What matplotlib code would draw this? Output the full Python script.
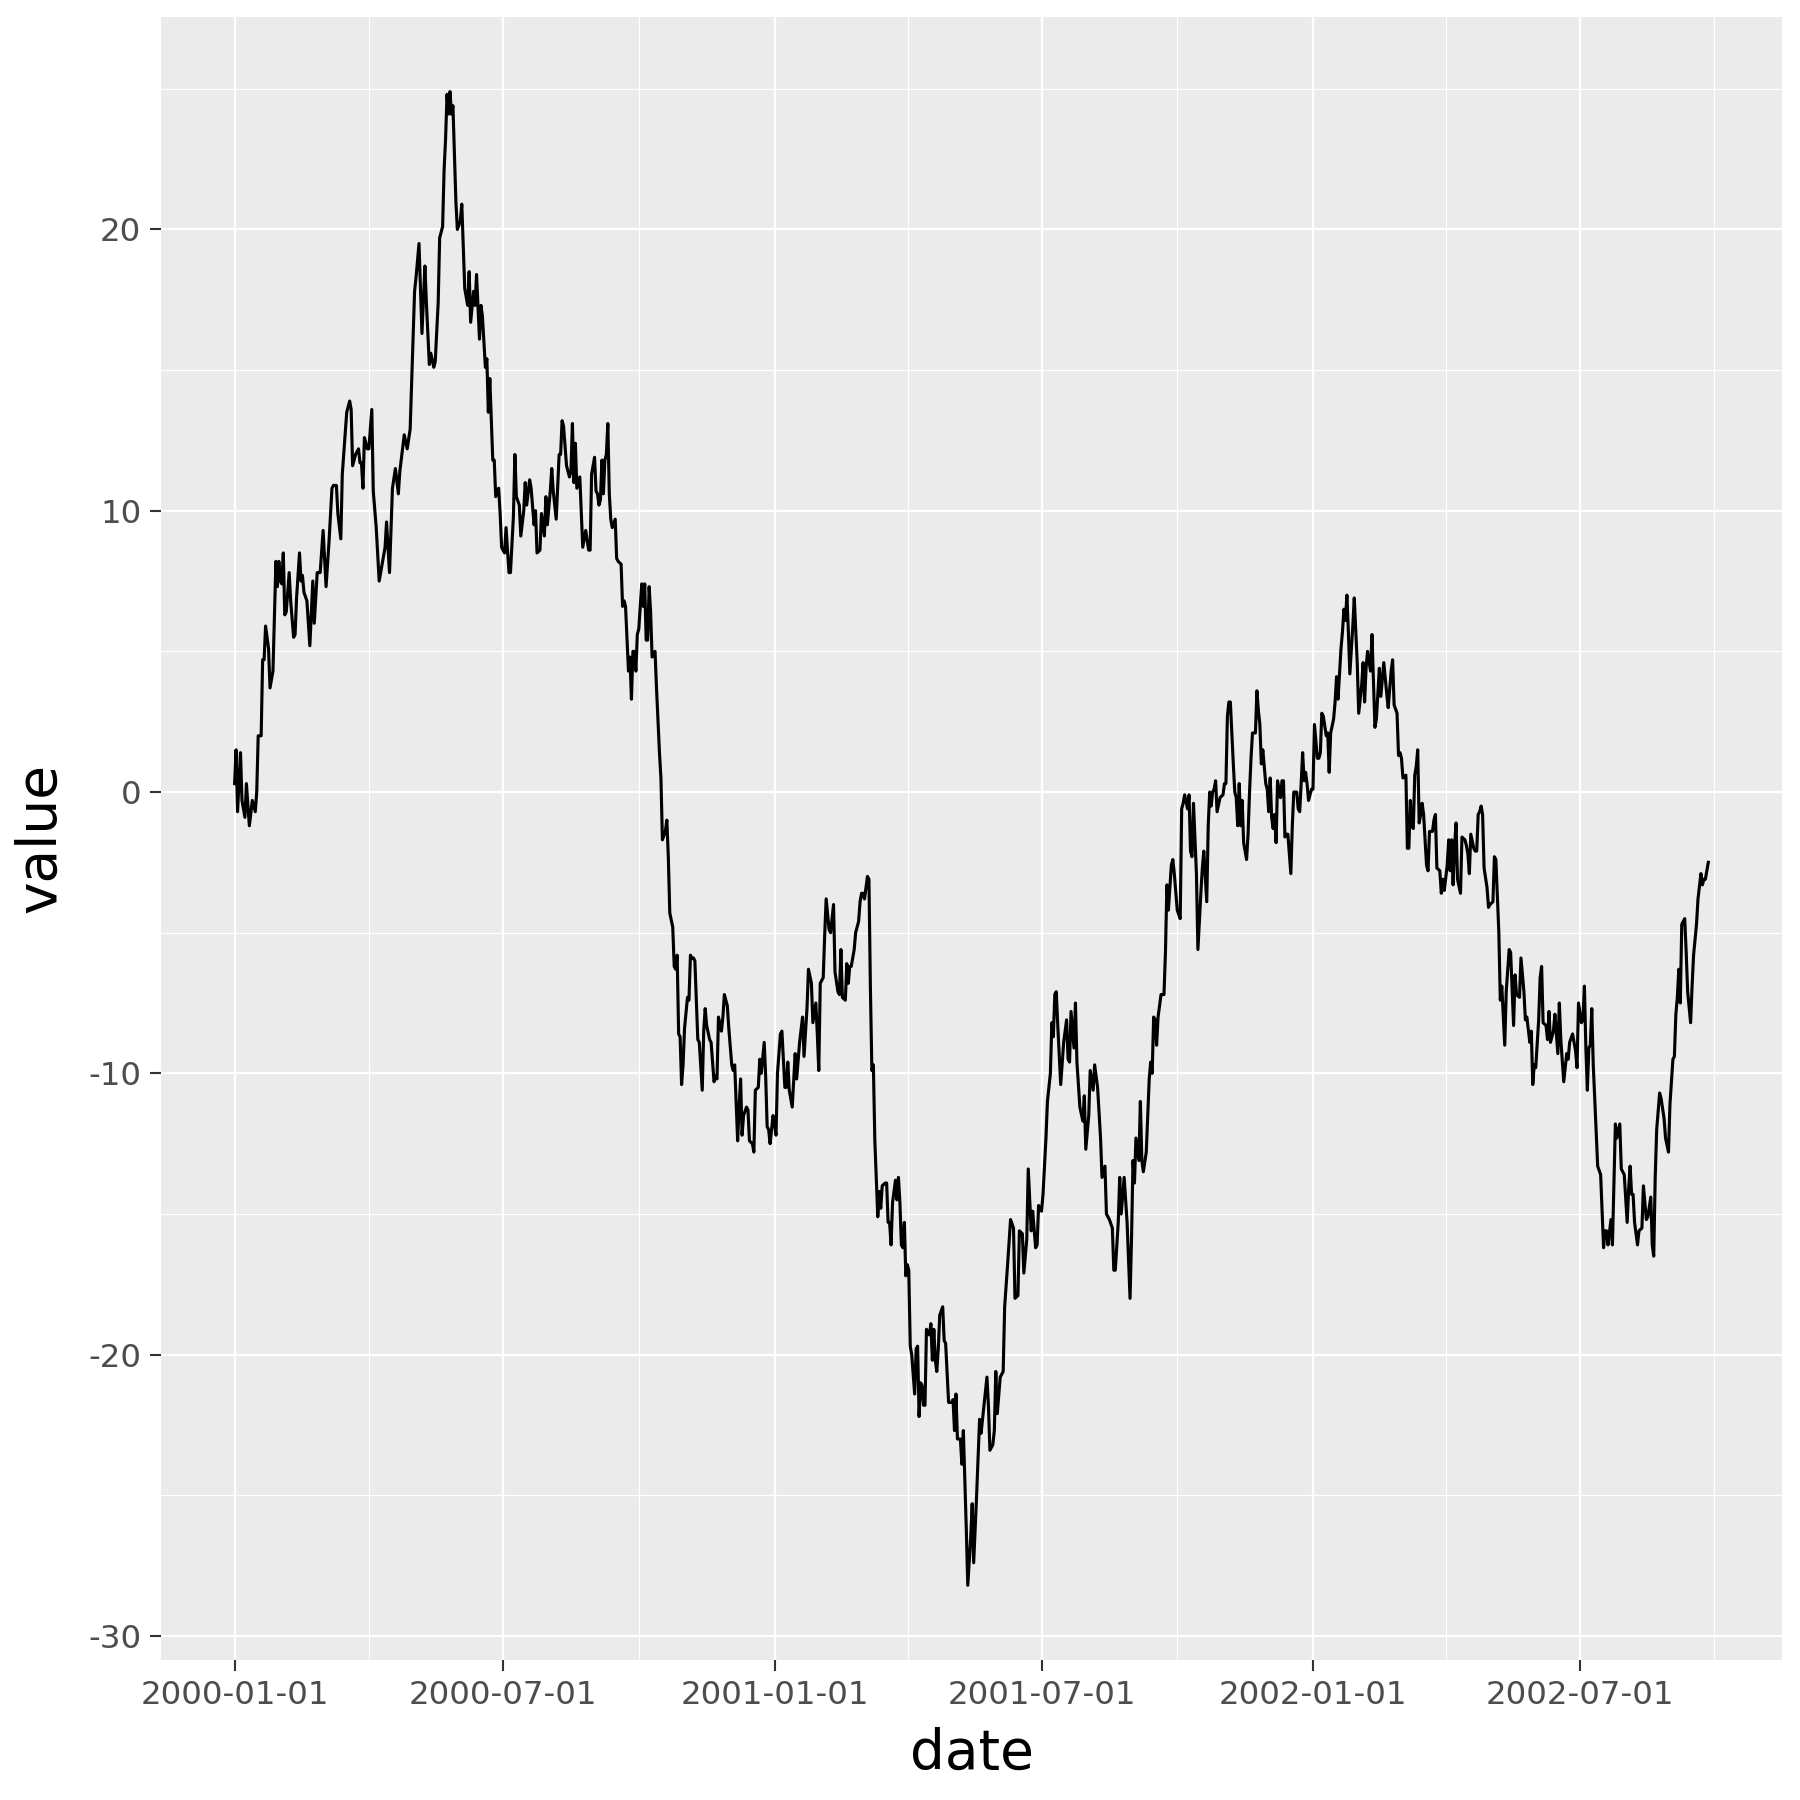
import matplotlib
matplotlib.use('Agg')
import matplotlib.pyplot as plt
import matplotlib.dates as mdates
import numpy as np
import pandas as pd

plt.rcParams['axes.unicode_minus'] = False

start = '2000-01-01'

# days since start
day = [
    0, 1, 2, 4, 5, 7, 8, 10, 12, 14, 15, 16, 18, 19, 20, 21, 23, 24, 26, 28,
    29, 30, 31, 32, 33, 34, 35, 37, 38, 40, 41, 42, 44, 45, 46, 47, 49, 51, 53, 54,
    56, 58, 60, 62, 64, 66, 67, 69, 70, 72, 73, 76, 78, 79, 80, 82, 84, 85, 86, 87,
    88, 90, 91, 93, 94, 96, 98, 100, 102, 103, 105, 107, 109, 111, 112, 115, 117,
    119, 120, 122, 123, 125, 127, 129, 130, 132, 133, 135, 136, 138, 139, 141, 142, 143, 144,
    145, 146, 147, 148, 149, 150, 151, 153, 154, 155, 156, 157, 158, 159, 160, 162, 163, 164,
    166, 167, 168, 170, 171, 172, 173, 175, 176, 177, 179, 180, 181, 183, 184, 186, 187, 189,
    190, 191, 193, 194, 196, 197, 198, 200, 201, 203, 204, 205, 207, 208, 210, 211, 212, 214,
    215, 216, 218, 220, 221, 222, 223, 225, 227, 228, 229, 230, 231, 232, 234, 236, 238, 240, 241,
    242, 244, 245, 246, 247, 248, 249, 250, 251, 252, 253, 254, 255, 256, 258, 259, 260, 262,
    263, 264, 265, 267, 268, 269, 270, 271, 272, 273, 274, 276, 277, 278, 279, 280, 281, 282,
    283, 285, 286, 288, 289, 290, 292, 293, 294, 295, 297, 298, 299, 300, 301, 302, 303, 304,
    305, 307, 308, 309, 310, 311, 312, 314, 315, 317, 318, 319, 320, 322, 323, 325, 326, 327,
    328, 330, 331, 332, 334, 335, 337, 338, 339, 341, 342, 343, 344, 345, 347, 348, 349, 351,
    352, 353, 355, 356, 357, 359, 360, 361, 362, 363, 365, 366, 367,
    368, 370, 371, 373, 374, 375, 376, 378, 380, 381, 383, 385, 386, 388, 389, 391, 392, 394,
    395, 396, 397, 399, 400, 401, 403, 404, 406, 407, 409, 410, 411, 412, 414, 415, 416, 417,
    418, 420, 421, 423, 424, 425, 426, 427, 429, 430, 431, 432, 433, 434, 436, 437, 438, 439,
    441, 442, 443, 444, 445, 446, 448, 449, 450, 451, 452, 453, 454, 455, 456, 457, 458, 459,
    461, 462, 463, 464, 465, 466, 467, 468, 469, 471, 472, 473, 474, 475, 476, 477, 478, 480,
    481, 482, 484,
    486, 487, 488, 489, 490, 492, 493, 494, 496, 497, 499, 500, 501, 503, 505, 506, 508, 510,
    511, 512, 514, 515, 516, 517, 519, 521, 522, 524, 526, 528, 529, 531, 532, 534, 535, 537,
    538, 540, 541, 543, 544, 545, 547, 548, 550, 551, 553, 554, 555, 556, 557, 558, 560, 562,
    564, 565, 566, 567, 569, 570, 571, 573, 575, 576, 577, 579, 580, 582, 583, 585, 587, 588,
    590, 591, 593, 595, 596, 597, 599, 600, 601, 603, 605, 606, 607,
    608, 609, 610, 611, 613, 614, 615, 616, 618, 620, 621, 622, 623, 624, 625, 626, 628, 630,
    631, 632, 633, 635, 636, 637, 639, 641, 642, 643, 644, 646, 647, 648, 649, 650, 652, 653,
    655, 656, 657, 659, 660, 661, 662, 663, 664, 665, 666, 668, 670, 671, 672, 673, 674, 675,
    677, 678, 679, 680, 681, 682, 683, 684, 686, 687, 688, 689, 690, 692, 693, 694, 695, 696,
    697, 699, 700, 701, 702, 703, 704, 705, 706, 707, 709, 710, 711, 712, 713, 714, 716, 717,
    718, 720, 721, 722, 723, 724, 725, 726, 727, 728,
    730, 731, 732, 734, 735, 736, 737, 738, 740, 741, 742, 743, 745, 746, 747, 748, 750, 751,
    752, 753, 754, 755, 756, 758, 759, 761, 762, 764, 765, 766, 767, 768, 770, 771, 773, 774,
    775, 776, 777, 779, 781, 782, 784, 785, 786, 788, 789, 790, 791, 792, 794, 795, 796, 797,
    798, 799, 800, 801, 802, 803, 804, 805, 806, 808, 809, 810, 812, 813, 814, 815, 817, 818,
    819, 820, 822, 823, 824, 825, 826, 827, 828, 829, 831, 832, 834, 835, 836, 837, 838, 840,
    841, 842, 843, 844, 845, 846, 847, 849, 850, 851,
    853, 854, 855, 857, 858, 859, 861, 862, 864, 865, 867, 868, 869, 871, 872, 874, 875, 876,
    878, 879, 880, 881, 882, 884, 885, 886, 887, 889, 890, 891, 892, 894, 895, 897, 898, 899,
    901, 903, 904, 905, 907, 909, 910, 911, 913, 914, 915, 916, 917, 918, 919, 920, 921, 923,
    924, 926, 927, 928, 929, 930, 931, 933, 934, 935, 936, 937, 939, 940, 942, 944, 945, 946,
    947, 948, 949, 951, 952, 954, 955, 957, 958, 960, 961, 962, 963, 964, 966, 967, 969, 970,
    972, 973, 975, 976, 977, 978, 979, 980, 981, 983, 984, 985, 987, 988, 989, 991, 992, 994,
    995, 996, 997, 999,
]

value = [
    0.3, 1.5, -0.7, 1.4, -0.3, -0.9, 0.3, -1.2, -0.3, -0.7, 0.0, 2.0, 2.0, 4.7, 4.7, 5.9, 5.1, 3.7, 4.3, 8.2,
    7.3, 8.2, 7.5, 7.4, 8.5, 6.3, 6.4, 7.8, 6.8, 5.5, 5.6, 6.9, 8.5, 7.5, 7.7, 7.1, 6.8, 5.2, 7.5, 6.0,
    7.8, 7.8, 9.3, 7.3, 8.9, 10.8, 10.9, 10.9, 9.9, 9.0, 11.3, 13.5, 13.9, 13.6, 11.6, 12.0, 12.2, 11.7, 11.7, 10.8,
    12.6, 12.2, 12.2, 13.6, 10.7, 9.4, 7.5, 8.1, 8.7, 9.6, 7.8, 10.8, 11.5, 10.6, 11.4, 12.7, 12.2,
    12.9, 14.5, 17.8, 18.3, 19.5, 16.3, 18.7, 17.4, 15.2, 15.6, 15.1, 15.3, 17.4, 19.7, 20.1, 22.1, 23.2, 24.8,
    24.1, 24.9, 24.1, 24.4, 22.7, 21.0, 20.0, 20.3, 20.9, 19.4, 17.9, 17.6, 17.3, 18.5, 16.7, 17.8, 17.3, 18.4,
    16.1, 17.3, 16.9, 15.1, 15.4, 13.5, 14.7, 11.8, 11.8, 10.5, 10.8, 9.9, 8.7, 8.5, 9.4, 7.8, 7.8, 9.8,
    12.0, 10.5, 10.2, 9.1, 10.0, 11.0, 10.2, 11.1, 10.8, 9.5, 10.0, 8.5, 8.6, 9.9, 9.1, 10.5, 9.5, 10.7,
    11.5, 10.7, 9.7, 12.0, 12.0, 13.2, 13.0, 11.6, 11.2, 11.4, 13.1, 11.0, 12.4, 10.8, 11.2, 8.7, 9.3, 8.6, 8.6,
    11.3, 11.9, 10.7, 10.6, 10.2, 10.4, 11.8, 10.6, 11.8, 12.0, 13.1, 10.6, 9.7, 9.4, 9.7, 8.3, 8.2, 8.1,
    6.6, 6.8, 6.6, 4.3, 4.8, 3.3, 5.0, 5.0, 4.3, 5.6, 5.8, 7.4, 6.6, 7.4, 5.4, 5.4, 7.3, 6.4,
    4.8, 5.0, 3.7, 1.4, 0.5, -1.7, -1.4, -1.0, -2.3, -4.3, -4.8, -6.2, -6.3, -5.8, -8.6, -8.7, -10.4, -9.7,
    -8.4, -7.3, -7.4, -5.8, -5.9, -5.9, -6.0, -8.8, -8.9, -10.6, -8.5, -7.7, -8.3, -8.8, -8.9, -10.3, -10.1, -10.2,
    -8.0, -8.5, -8.0, -7.2, -7.6, -8.4, -9.7, -9.9, -9.7, -12.4, -11.2, -10.2, -12.2, -11.5, -11.2, -11.3, -12.4, -12.5,
    -12.8, -10.6, -10.5, -9.5, -10.0, -8.9, -10.1, -11.9, -12.0, -12.5, -11.5, -11.8, -12.2,
    -10.0, -8.6, -8.5, -10.5, -10.5, -9.6, -10.6, -11.2, -9.3, -10.2, -8.9, -8.0, -9.4, -7.7, -6.3, -6.8, -8.2, -7.5,
    -8.6, -9.9, -6.8, -6.6, -5.1, -3.8, -4.9, -5.0, -4.0, -6.4, -7.1, -7.2, -5.6, -7.3, -7.4, -6.1, -6.8, -6.2,
    -6.2, -5.6, -5.0, -4.6, -3.9, -3.6, -3.6, -3.8, -3.0, -3.1, -7.0, -9.9, -9.7, -12.4, -15.1, -14.2, -14.8, -14.0,
    -13.9, -13.9, -15.3, -15.3, -16.1, -14.6, -13.8, -14.5, -13.7, -14.6, -16.1, -16.2, -15.3, -17.2, -16.8, -17.0, -19.7, -20.0,
    -21.4, -19.8, -19.7, -22.2, -21.0, -21.1, -21.8, -21.8, -19.1, -19.3, -18.9, -20.2, -19.1, -20.2, -20.6, -19.8, -18.6, -18.3,
    -19.5, -19.6, -21.7,
    -21.7, -21.6, -22.7, -21.4, -23.0, -23.0, -23.9, -22.7, -26.2, -28.2, -26.5, -25.3, -27.4, -25.0, -22.3, -22.8, -21.8, -20.8,
    -21.8, -23.4, -23.2, -22.7, -20.6, -22.1, -20.8, -20.6, -18.3, -16.8, -15.2, -15.5, -18.0, -17.9, -15.6, -15.7, -17.1, -15.9,
    -13.4, -15.6, -14.9, -16.2, -16.1, -14.7, -14.9, -14.3, -12.3, -11.0, -10.0, -8.2, -8.7, -7.2, -7.1, -8.3, -10.4, -8.9,
    -8.1, -9.5, -9.6, -7.8, -9.1, -7.5, -9.6, -11.2, -11.7, -10.8, -12.7, -11.5, -9.9, -10.6, -9.7, -10.5, -12.3, -13.7,
    -13.3, -15.0, -15.2, -15.5, -17.0, -17.0, -15.3, -13.7, -15.0, -13.7, -15.3, -16.7, -18.0,
    -15.9, -13.1, -13.9, -12.3, -13.1, -11.0, -13.1, -13.5, -12.8, -10.2, -9.6, -10.0, -8.0, -8.1, -9.0, -8.0, -7.2, -7.2,
    -5.7, -3.3, -4.2, -2.6, -2.4, -2.9, -4.2, -4.5, -0.6, -0.4, -0.1, -0.6, -0.1, -2.1, -2.3, -0.4, -2.9, -5.6,
    -3.6, -2.7, -2.1, -3.9, -1.2, 0.0, -0.5, 0.0, 0.1, 0.4, -0.7, -0.2, -0.1, 0.3, 0.3, 2.7, 3.2, 3.2,
    1.0, 0.0, -0.2, -1.2, 0.3, -1.2, -0.3, -1.8, -2.4, -1.5, 0.0, 1.2, 2.1, 2.1, 3.6, 2.9, 2.4, 1.0,
    1.5, 0.3, 0.1, -0.7, 0.5, -0.9, -1.3, -0.8, -1.8, 0.4, -0.2, 0.4, 0.4, -1.6, -1.5, -1.5, -2.9, -1.2,
    0.0, 0.0, -0.6, -0.7, 0.3, 1.4, 0.4, 0.7, 0.3, -0.3,
    0.1, 0.1, 2.4, 1.2, 1.2, 1.4, 2.8, 2.7, 2.0, 2.1, 0.7, 2.1, 2.6, 3.2, 4.1, 3.3, 5.1, 5.7,
    6.5, 6.1, 7.0, 5.7, 4.2, 5.9, 6.9, 4.6, 2.8, 3.8, 4.6, 3.2, 4.4, 5.0, 4.3, 5.6, 2.3, 2.6,
    3.5, 4.4, 3.4, 4.6, 3.5, 3.0, 4.3, 4.7, 3.1, 2.8, 1.3, 1.4, 1.2, 0.5, 0.6, -2.0, -2.0, -0.3,
    -1.2, -1.3, 0.6, 0.9, 1.5, -1.1, -0.8, -0.4, -0.8, -2.6, -2.8, -1.4, -1.4, -1.0, -0.8, -2.7, -2.8, -3.6,
    -3.1, -3.5, -2.6, -1.7, -2.8, -1.7, -3.3, -1.9, -1.1, -3.1, -3.6, -1.6, -1.7, -1.9, -2.2, -2.9, -1.5, -2.0,
    -2.1, -2.1, -0.8, -0.7, -0.5, -0.8, -2.7, -3.4, -4.1, -4.0,
    -3.9, -2.3, -2.4, -5.0, -7.4, -6.9, -9.0, -7.1, -5.6, -5.7, -8.3, -6.5, -7.2, -7.3, -5.9, -7.1, -8.1, -8.0,
    -8.9, -8.5, -10.4, -9.7, -9.8, -8.1, -6.6, -6.2, -8.2, -8.3, -8.8, -7.8, -8.9, -8.5, -7.9, -9.3, -7.5, -8.8,
    -10.3, -9.3, -9.5, -8.9, -8.6, -9.2, -9.8, -7.5, -8.2, -8.1, -6.9, -9.1, -10.6, -9.1, -9.0, -7.7, -9.7, -12.1,
    -13.3, -13.6, -14.9, -16.2, -15.6, -15.6, -16.1, -15.2, -16.1, -14.0, -11.8, -12.3, -11.8, -13.4, -13.6, -15.3, -14.1, -13.3,
    -14.3, -14.3, -15.3, -16.1, -15.6, -15.5, -14.0, -15.2, -15.1, -14.4, -16.1, -16.5, -13.7, -12.0, -10.7, -10.9, -11.6, -12.3,
    -12.8, -11.1, -9.5, -9.4, -7.9, -7.3, -6.3, -7.5, -4.7, -4.5, -5.7, -7.1, -8.2, -6.9, -5.8, -4.7, -3.8, -2.9,
    -3.3, -3.1, -3.1, -2.5,
]

x_breaks = ['2000-01-01', '2000-07-01', '2001-01-01', '2001-07-01', '2002-01-01', '2002-07-01']
y_breaks = [-30, -20, -10, 0, 10, 20]

dates = pd.Timestamp(start) + pd.to_timedelta(day, unit='D')

fig = plt.figure(figsize=(6, 6), dpi=300)
ax = fig.add_axes([0.0894, 0.0778, 0.9006, 0.9128])
ax.set_facecolor('#EBEBEB')
ax.plot(dates, value, color='black', lw=0.75)
ax.margins(x=0.05, y=0.05)

# breaks, minor ones half way like ggplot
xm = mdates.date2num(pd.to_datetime(x_breaks))
step = xm[1] - xm[0]
x_minor = np.concatenate([[xm[0] - step / 2], (xm[:-1] + xm[1:]) / 2, [xm[-1] + step / 2]])
y_minor = np.array(y_breaks[:-1]) + 5
y_minor = np.concatenate([[y_breaks[0] - 5], y_minor, [y_breaks[-1] + 5]])

xlim = ax.get_xlim()
ylim = ax.get_ylim()
ax.set_xticks(xm)
ax.set_xticks(x_minor, minor=True)
ax.set_yticks(y_breaks)
ax.set_yticks(y_minor, minor=True)
ax.set_xlim(xlim)
ax.set_ylim(ylim)
ax.xaxis.set_major_formatter(mdates.DateFormatter('%Y-%m-%d'))

ax.set_axisbelow(True)
ax.grid(which='major', color='white', lw=0.55)
ax.grid(which='minor', color='white', lw=0.28)
for s in ax.spines.values():
    s.set_visible(False)

ax.tick_params(which='major', length=2.7, width=0.5, color='#333333',
               labelcolor='#4D4D4D', labelsize=7.8, pad=2)
ax.tick_params(which='minor', length=0)

ax.set_xlabel('date', fontsize=13.2, labelpad=4)
ax.set_ylabel('value', fontsize=13.2, labelpad=5)

plt.savefig('out.png', dpi=300)
